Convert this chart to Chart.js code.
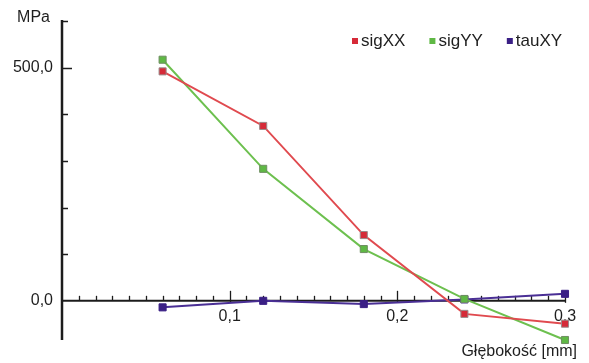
<!DOCTYPE html>
<html>
<head>
<meta charset="utf-8">
<script src="https://cdn.jsdelivr.net/npm/chart.js@4.4.1/dist/chart.umd.min.js"></script>
<style>
  html, body { margin: 0; padding: 0; background: #ffffff; }
  #wrap { width: 589px; height: 363px; position: relative; }
</style>
</head>
<body>
<div id="wrap"><canvas id="c"></canvas></div>
<script>
// ---- data ----
const depth = [0.06, 0.12, 0.18, 0.24, 0.30];
const sigXX = [492, 375, 141, -28, -49];
const sigYY = [517, 283, 111, 4, -84];
const tauXY = [-14, 0, -7, 3, 15];
const seriesNames = ['sigXX', 'sigYY', 'tauXY'];
const xTickValues = [0.1, 0.2, 0.3];
const xTickLabels = ['0,1', '0,2', '0,3'];
const yTickValues = [0, 500];
const yTickLabels = ['0,0', '500,0'];
const xMinorStep = 0.01;
const yMinorStep = 100;
const yTitle = 'MPa';
const xTitle = 'Głębokość [mm]';

const lineColors = ['#e04a4f', '#6dc04f', '#4a2f95'];
const markColors = ['#d62a38', '#5fb845', '#3a1f85'];
const markBorders = ['#9a8a8a', '#6f8f62', '#3a1f85'];

function pts(vals) { return depth.map((d, i) => ({ x: d, y: vals[i] })); }

const FONT = '16px "Liberation Sans", Arial, sans-serif';
const LEGEND_FONT = '17px "Liberation Sans", Arial, sans-serif';

const axesPlugin = {
  id: 'axesPlugin',
  beforeDatasetsDraw(chart) {
    const { ctx, scales: { x, y } } = chart;
    const x0 = x.getPixelForValue(0);
    const y0 = y.getPixelForValue(0);
    const yTop = y.getPixelForValue(y.max);
    const yBot = y.getPixelForValue(y.min);
    const xEnd = x.getPixelForValue(x.max);
    ctx.save();
    ctx.strokeStyle = '#1c1c1c';
    // y axis line
    ctx.lineWidth = 2.5;
    ctx.beginPath(); ctx.moveTo(x0, yTop - 1); ctx.lineTo(x0, yBot); ctx.stroke();
    // y ticks
    ctx.lineWidth = 1.5;
    for (let v = yMinorStep; v <= y.max + 0.001; v += yMinorStep) {
      const py = Math.round(y.getPixelForValue(v)) + 0.5;
      const major = yTickValues.includes(Math.round(v));
      ctx.beginPath(); ctx.moveTo(x0, py); ctx.lineTo(x0 + (major ? 10 : 6), py); ctx.stroke();
    }
    // x axis line
    ctx.lineWidth = 2;
    ctx.beginPath(); ctx.moveTo(x0, y0); ctx.lineTo(xEnd, y0); ctx.stroke();
    // x ticks
    ctx.lineWidth = 1.3;
    const n = Math.round(x.max / xMinorStep);
    for (let i = 1; i <= n; i++) {
      const v = i * xMinorStep;
      const px = Math.round(x.getPixelForValue(v)) + 0.5;
      const major = i % 10 === 0;
      ctx.beginPath(); ctx.moveTo(px, y0 + (major ? 2 : 0)); ctx.lineTo(px, y0 - (major ? 10 : 5)); ctx.stroke();
    }
    // tick labels
    ctx.fillStyle = '#1e1e1e';
    ctx.font = FONT;
    ctx.textAlign = 'center';
    ctx.textBaseline = 'middle';
    xTickValues.forEach((v, i) => {
      ctx.fillText(xTickLabels[i], x.getPixelForValue(v), y0 + 16);
    });
    ctx.textAlign = 'right';
    yTickValues.forEach((v, i) => {
      ctx.fillText(yTickLabels[i], x0 - 9, y.getPixelForValue(v));
    });
    // axis titles
    ctx.fillText(yTitle, x0 - 12, yTop - 3);
    ctx.fillText(xTitle, xEnd + 12, yBot + 12);
    ctx.restore();
  },
  afterDraw(chart) {
    const { ctx } = chart;
    ctx.save();
    ctx.font = LEGEND_FONT;
    ctx.textBaseline = 'middle';
    ctx.textAlign = 'left';
    let lx = 352;
    const ly = 41;
    chart.data.datasets.forEach((ds, i) => {
      ctx.fillStyle = markColors[i];
      ctx.fillRect(lx, ly - 3, 6, 6);
      ctx.fillStyle = '#1e1e1e';
      ctx.fillText(ds.label, lx + 9, ly);
      lx += 9 + ctx.measureText(ds.label).width + 24;
    });
    ctx.restore();
  }
};

new Chart(document.getElementById('c'), {
  type: 'line',
  data: {
    datasets: [sigXX, sigYY, tauXY].map((vals, i) => ({
      label: seriesNames[i],
      data: pts(vals),
      borderColor: lineColors[i],
      backgroundColor: markColors[i],
      pointBackgroundColor: markColors[i],
      pointBorderColor: markBorders[i],
      pointBorderWidth: 1,
      pointStyle: 'rect',
      pointRadius: 5,
      borderWidth: 2,
      tension: 0,
      clip: false
    }))
  },
  options: {
    responsive: true,
    maintainAspectRatio: false,
    animation: false,
    layout: { padding: { left: 62, right: 24, top: 21, bottom: 23 } },
    scales: {
      x: { type: 'linear', min: 0, max: 0.3, display: false },
      y: { type: 'linear', min: -84, max: 600, display: false }
    },
    plugins: {
      legend: { display: false },
      tooltip: { enabled: false }
    }
  },
  plugins: [axesPlugin]
});
</script>
</body>
</html>
